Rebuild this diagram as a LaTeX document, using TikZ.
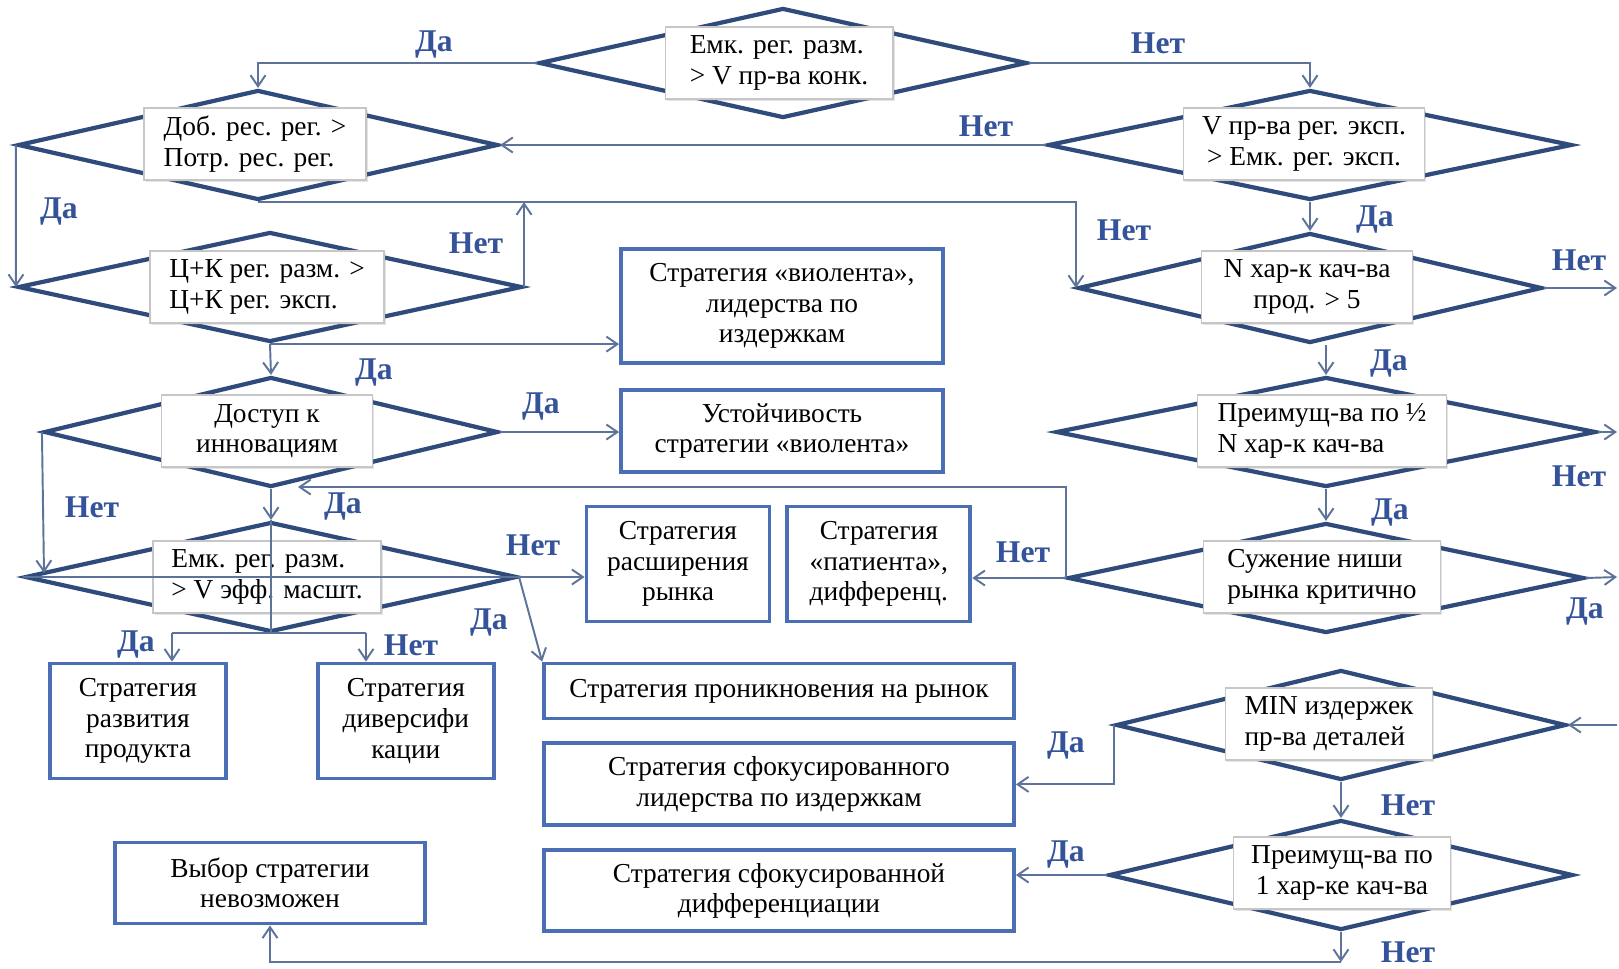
\documentclass[tikz,border=0pt]{standalone}
\usepackage{fontspec}
\setmainfont{Liberation Serif}
\usetikzlibrary{arrows.meta,calc,positioning,shapes.geometric,shadows}
\definecolor{RhombNavy}{HTML}{2F4B7C}
\definecolor{FrameBlue}{HTML}{4A6FB5}
\definecolor{LinkSlate}{HTML}{5E7399}
\definecolor{TagBlue}{HTML}{34539A}

\begin{document}
\begin{tikzpicture}[x=0.02cm,y=-0.02cm,node distance=.42cm,
    rhomb/.style={diamond,draw=RhombNavy,line width=2.4pt,inner sep=0pt,minimum height=2.2cm},
    tbox/.style={rectangle,draw=gray!45,fill=white,line width=.6pt,minimum height=1.44cm,align=left,
      drop shadow={opacity=.2,shadow xshift=1pt,shadow yshift=-1pt},font=\fontsize{15.6}{17.4}\selectfont},
    sbox/.style={rectangle,draw=FrameBlue,fill=white,line width=2.2pt,align=center,font=\fontsize{15.6}{17.4}\selectfont},
    tag/.style={font=\bfseries\fontsize{18}{18}\selectfont,text=TagBlue},
    arr/.style={-{Straight Barb[length=2.2mm,width=3mm]},line width=1.1pt,LinkSlate},
    lnk/.style={line width=1.1pt,LinkSlate}]
    \fill[white] (0,0) rectangle (1619,968);
    \useasboundingbox (0,0) rectangle (1619,968);
    % decision diamonds
    \node[rhomb,minimum width=9.76cm] (capR) at (783,63) {};
    \node[rhomb,minimum width=9.6cm] (resR) at (258,145) {};
    \node[rhomb,minimum width=10.48cm] (volE) at (1310,145) {};
    \node[rhomb,minimum width=10.08cm] (priceR) at (270,287) {};
    \node[rhomb,minimum width=9.28cm] (nQual) at (1310,288) {};
    \node[rhomb,minimum width=9.08cm] (innov) at (271,432) {};
    \node[rhomb,minimum width=10.8cm] (halfQ) at (1326,432) {};
    \node[rhomb,minimum width=9.84cm] (scale) at (271,577) {};
    \node[rhomb,minimum width=10.32cm] (niche) at (1326,578) {};
    \node[rhomb,minimum width=9cm] (minCost) at (1341,725) {};
    \node[rhomb,minimum width=9.28cm] (oneQ) at (1341,875) {};
    % texts on the diamonds
    \node[tbox,minimum width=4.56cm] (capT) at (779,63) {Емк. рег. разм.\\> V пр-ва конк.};
    \node[tbox,minimum width=4.44cm] (resT) at (255,144) {Доб. рес. рег. >\\Потр. рес. рег.};
    \node[tbox,minimum width=4.82cm,align=center] (volT) at (1304,144) {V пр-ва рег. эксп.\\> Емк. рег. эксп.};
    \node[tbox,minimum width=4.68cm] (priceT) at (267,287) {Ц+К рег. разм. >\\Ц+К рег. эксп.};
    \node[tbox,minimum width=4.22cm,align=center] (nQualT) at (1307,287) {N хар-к кач-ва\\прод. > 5};
    \node[tbox,minimum width=4.22cm,align=center] (innovT) at (267,431) {Доступ к\\инновациям};
    \node[tbox,minimum width=4.98cm] (halfT) at (1322,431) {Преимущ-ва по ½\\N хар-к кач-ва};
    \node[tbox,minimum width=4.56cm] (scaleT) at (267,577) {Емк. рег. разм.\\> V эфф. масшт.};
    \node[tbox,minimum width=4.74cm] (nicheT) at (1322,577) {Сужение ниши\\рынка критично};
    \node[tbox,minimum width=4.14cm] (minT) at (1329,724) {MIN издержек\\пр-ва деталей};
    \node[tbox,minimum width=4.34cm,align=center] (oneT) at (1342,873) {Преимущ-ва по\\1 хар-ке кач-ва};
    % strategies
    \node[sbox,minimum width=6.44cm,minimum height=2.28cm] (violent) at (782,306) {Стратегия «виолента»,\\лидерства по\\издержкам};
    \node[sbox,minimum width=6.44cm,minimum height=1.64cm,below=.46cm of violent] (stable) {Устойчивость\\стратегии «виолента»};
    \node[sbox,minimum width=3.66cm,minimum height=2.3cm] (expand) at (678,564) {Стратегия\\расширения\\рынка};
    \node[sbox,minimum width=3.66cm,minimum height=2.3cm,right=.28cm of expand] (patient) {Стратегия\\«патиента»,\\дифференц.};
    \node[sbox,minimum width=3.52cm,minimum height=2.3cm] (product) at (138,721) {Стратегия\\развития\\продукта};
    \node[sbox,minimum width=3.52cm,minimum height=2.3cm,right=1.76cm of product] (divers) {Стратегия\\диверсифи\\кации};
    \node[sbox,minimum width=9.4cm,minimum height=1.1cm] (penetr) at (779,691) {Стратегия проникновения на рынок};
    \node[sbox,minimum width=9.4cm,minimum height=1.64cm,below=of penetr] (focCost) {Стратегия сфокусированного\\лидерства по издержкам};
    \node[sbox,minimum width=9.4cm,minimum height=1.62cm,below=of focCost] (focDiff) {Стратегия сфокусированной\\дифференциации};
    \node[sbox,minimum width=6.2cm,minimum height=1.62cm] (noChoice) at (270,883) {Выбор стратегии\\невозможен};
    % free ends
    \coordinate (scaleNW) at (44,573);
    \coordinate (exitA) at (1617,288);
    \coordinate (exitB) at (1617,432);
    \coordinate (exitC) at (1617,577);
    \coordinate (entryD) at (1617,725);
    \coordinate (forkL) at (172,633);
    \coordinate (forkR) at (366,633);
    \coordinate (innovIn) at (298,487);
    \coordinate (bottomTurn) at (1341,962);
    % connectors
    \draw[arr] (capR.west) -| (resR.north);
    \draw[arr] (capR.east) -| (volE.north);
    \draw[arr] (volE.west) -- (resR.east);
    \draw[arr] (resR.west) -- (priceR.west);
    \draw[arr] (resR.south) -| (nQual.west);
    \draw[arr] (priceR.east) -- (priceR.east |- resR.south);
    \draw[arr] (priceR.south) -- (priceR.south -| violent.west);
    \draw[arr] (priceR.south) -- (innov.north);
    \draw[arr] (innov.east) -- (innov.east -| stable.west);
    \draw[arr] (innov.west) -- (scaleNW);
    \draw[arr] (innov.south) -- (scale.north);
    \draw[lnk] (scale.north) -- (scale.south);
    \draw[lnk] (scale.west) -- (scale.east);
    \draw[arr] (scale.east) -- (scale.east -| expand.west);
    \draw[arr] (scale.east) -- (penetr.north west);
    \draw[lnk] (forkL) -- (forkR);
    \draw[arr] (forkL) -- (forkL |- product.north);
    \draw[arr] (forkR) -- (forkR |- divers.north);
    \draw[arr] (volE.south) -- (nQual.north);
    \draw[arr] (nQual.east) -- (exitA);
    \draw[arr] (halfQ.north |- nQual.south) -- (halfQ.north);
    \draw[arr] (halfQ.east) -- (exitB);
    \draw[arr] (halfQ.south) -- (niche.north);
    \draw[arr] (niche.east) -- (exitC);
    \draw[arr] (niche.west) -- (niche.west -| patient.east);
    \draw[arr] (niche.west) |- (innovIn);
    \draw[arr] (entryD) -- (minCost.east);
    \draw[arr] (minCost.west) |- (focCost.east);
    \draw[arr] (minCost.south) -- (oneQ.north);
    \draw[arr] (oneQ.west) -- (oneQ.west -| focDiff.east);
    \draw[arr] (oneQ.south) -- (bottomTurn);
    \draw[arr] (bottomTurn) -| (noChoice.south);
    % yes / no tags
    \node[tag] (yesA) at (434,45) {Да};
    \node[tag] (noA) at (1158,43) {Нет};
    \node[tag] (noB) at (986,126) {Нет};
    \node[tag] (yesB) at (59,212) {Да};
    \node[tag] (noC) at (1124,230) {Нет};
    \node[tag] (noD) at (476,243) {Нет};
    \node[tag] (yesC) at (374,373) {Да};
    \node[tag] (yesD) at (541,407) {Да};
    \node[tag] (noE) at (92,507) {Нет};
    \node[tag] (yesE) at (343,507) {Да};
    \node[tag] (noF) at (533,545) {Нет};
    \node[tag] (yesF) at (489,623) {Да};
    \node[tag] (yesG) at (136,645) {Да};
    \node[tag] (noG) at (411,645) {Нет};
    \node[tag] (yesH) at (1375,220) {Да};
    \node[tag] (noH) at (1579,260) {Нет};
    \node[tag] (yesI) at (1389,364) {Да};
    \node[tag] (noI) at (1579,476) {Нет};
    \node[tag] (yesJ) at (1390,513) {Да};
    \node[tag] (yesK) at (1585,612) {Да};
    \node[tag] (noJ) at (1023,552) {Нет};
    \node[tag] (yesL) at (1066,746) {Да};
    \node[tag] (noK) at (1408,805) {Нет};
    \node[tag] (yesM) at (1066,855) {Да};
    \node[tag] (noL) at (1408,952) {Нет};
  \end{tikzpicture}
\end{document}
